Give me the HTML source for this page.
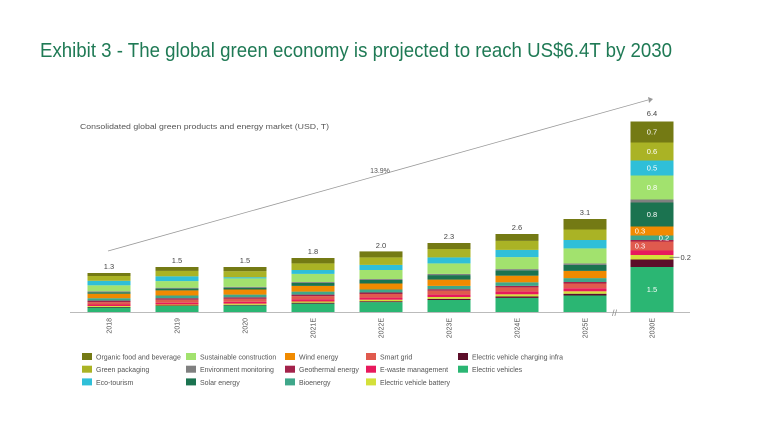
<!DOCTYPE html>
<html><head><meta charset="utf-8"><style>
body{margin:0;background:#fff}
svg{display:block;font-family:"Liberation Sans",sans-serif}
</style></head><body>
<svg id="chart" width="768" height="432" viewBox="0 0 768 432">
<text x="40" y="57" font-size="20" fill="#1f7a55" textLength="632" lengthAdjust="spacingAndGlyphs">Exhibit 3 - The global green economy is projected to reach US$6.4T by 2030</text>
<text x="80" y="129" font-size="7.5" fill="#555" textLength="249" lengthAdjust="spacingAndGlyphs">Consolidated global green products and energy market (USD, T)</text>
<g id="bars"></g>
<g id="legend"></g>
</svg>
<script>
const categories=["2018","2019","2020","2021E","2022E","2023E","2024E","2025E","2030E"];
const totals=[1.3,1.5,1.5,1.8,2.0,2.3,2.6,3.1,6.4];
const seriesNames=["Electric vehicles","Electric vehicle charging infra","Electric vehicle battery","E-waste management","Smart grid","Geothermal energy","Bioenergy","Wind energy","Solar energy","Environment monitoring","Sustainable construction","Eco-tourism","Green packaging","Organic food and beverage"];
const seriesColors=["#2bb673","#5c0e2a","#d4e03a","#e8195d","#e05a4e","#a3224a","#3fa78a","#f08a00","#1b7350","#808080","#a2e26e","#2fbfd8","#aab325","#747a14"];
const evVals=[0.15,0.2,0.22,0.28,0.33,0.4,0.47,0.55,1.5];
const chargeVals=[0.02,0.02,0.02,0.03,0.03,0.04,0.05,0.06,0.25];
const batteryVals=[0.03,0.03,0.04,0.04,0.05,0.06,0.07,0.08,0.15];
const ewasteVals=[0.05,0.06,0.06,0.07,0.07,0.08,0.09,0.1,0.15];
const smartVals=[0.08,0.1,0.1,0.11,0.12,0.13,0.14,0.16,0.3];
const geoVals=[0.05,0.05,0.05,0.05,0.05,0.05,0.05,0.05,0.05];
const bioVals=[0.08,0.09,0.09,0.1,0.1,0.11,0.12,0.13,0.15];
const windVals=[0.15,0.17,0.17,0.19,0.2,0.21,0.22,0.24,0.3];
const solarVals=[0.05,0.06,0.06,0.1,0.12,0.15,0.18,0.2,0.8];
const envVals=[0.03,0.03,0.03,0.03,0.03,0.04,0.04,0.05,0.1];
const sustVals=[0.2,0.22,0.28,0.27,0.3,0.35,0.4,0.5,0.8];
const ecoVals=[0.15,0.16,0.04,0.13,0.17,0.2,0.24,0.28,0.5];
const packVals=[0.16,0.18,0.2,0.22,0.25,0.28,0.3,0.35,0.6];
const organicVals=[0.1,0.13,0.14,0.18,0.2,0.2,0.23,0.35,0.7];
const seriesVals=[evVals,chargeVals,batteryVals,ewasteVals,smartVals,geoVals,bioVals,windVals,solarVals,envVals,sustVals,ecoVals,packVals,organicVals];
const lastLabels=["1.5","","","","0.3","","0.2","0.3","0.8","","0.8","0.5","0.6","0.7"];
const legendOrder=["Organic food and beverage","Green packaging","Eco-tourism","Sustainable construction","Environment monitoring","Solar energy","Wind energy","Geothermal energy","Bioenergy","Smart grid","E-waste management","Electric vehicle battery","Electric vehicle charging infra","Electric vehicles"];

const NS="http://www.w3.org/2000/svg";
const base=312, scale=30, bw=43;
const xc=i=> i<8 ? 109+i*68 : 652;
const y=v=> base - v*scale;
function mk(tag,attrs,parent){const e=document.createElementNS(NS,tag);for(const k in attrs)e.setAttribute(k,attrs[k]);parent.appendChild(e);return e;}
const g=document.getElementById('bars');
const axis=mk('line',{x1:70,x2:690,y1:base+0.5,y2:base+0.5,stroke:'#bbb','stroke-width':1},g);


const brk=mk('text',{x:612,y:base+4,'font-size':9,fill:'#888'},g);brk.textContent='//';


const arr=mk('line',{x1:108,y1:y(totals[0])-22,x2:648,y2:y(totals[8])-20,stroke:'#999','stroke-width':0.8},g);


const ah=mk('polygon',{points:`648,${y(totals[8])-23} 653,${y(totals[8])-21} 649,${y(totals[8])-17}`,fill:'#999'},g);


const cg=mk('text',{x:380,y:173,'font-size':7,fill:'#555','text-anchor':'middle'},g);cg.textContent='13.9%';


categories.forEach((c,i)=>{
  let acc=0;
  seriesVals.forEach((s,k)=>{
    const v=s[i];
    const r=mk('rect',{x:xc(i)-bw/2,y:y(acc+v),width:bw,height:v*scale,fill:seriesColors[k]},g);
    
    
    if(i===8 && lastLabels[k]){
      const t=mk('text',{x:k===4||k===7?xc(i)-12:(k===6?xc(i)+12:xc(i)),y:y(acc+v/2)+2.5,'font-size':7.5,fill:'#fff','text-anchor':'middle'},g);
      t.textContent=lastLabels[k];
      
      
    }
    acc+=v;
  });
  const tl=mk('text',{x:xc(i),y:y(totals[i])-4,'font-size':7.5,fill:'#444','text-anchor':'middle'},g);
  tl.textContent=totals[i].toFixed(1);
  
  
  const xl=mk('text',{x:0,y:0,'font-size':7,fill:'#555','text-anchor':'end',transform:`translate(${xc(i)+2.5},${base+6}) rotate(-90)`},g);
  xl.textContent=c;
  
  
});
const cy=y(evVals[8]+chargeVals[8]+batteryVals[8]/2);
const cl=mk('line',{x1:xc(8)+bw/2-4,x2:xc(8)+bw/2+6,y1:cy,y2:cy,stroke:'#666','stroke-width':0.7},g);


const ct=mk('text',{x:xc(8)+bw/2+7,y:cy+2.5,'font-size':7.5,fill:'#444'},g);ct.textContent='0.2';


const lg=document.getElementById('legend');
const colX=[82,186,285,366,458];
legendOrder.forEach((n,j)=>{
  const col=Math.floor(j/3),row=j%3;
  const k=seriesNames.indexOf(n);
  const it=mk('g',{},lg);
  
  
  mk('rect',{x:colX[col],y:353+row*12.7,width:10,height:7,fill:seriesColors[k]},it);
  const t=mk('text',{x:colX[col]+14,y:359.5+row*12.7,'font-size':7,fill:'#555'},it);
  t.textContent=n;
});
</script>
</body></html>
